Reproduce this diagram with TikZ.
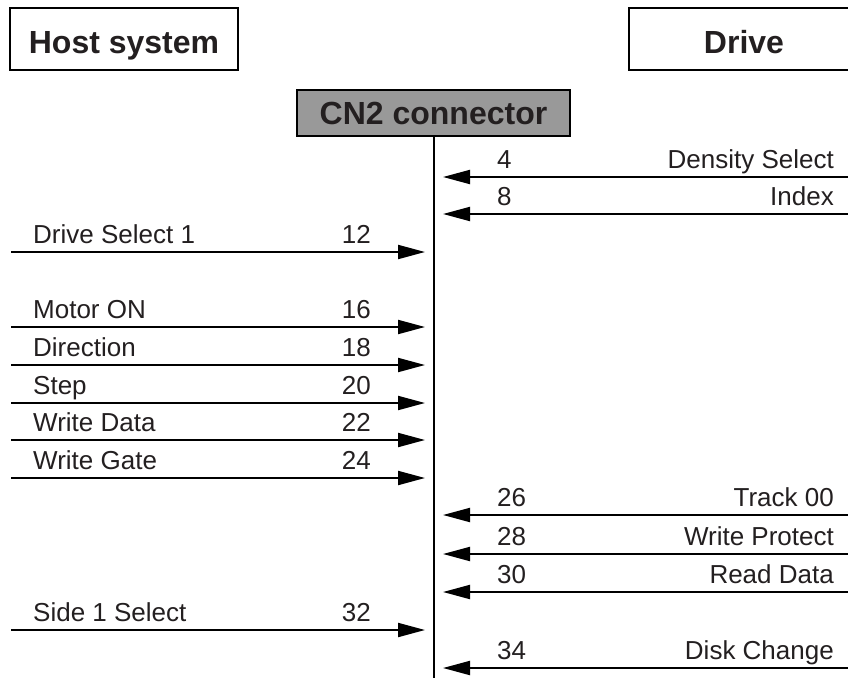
\documentclass[tikz,border=0pt]{standalone}
\usepackage{fontspec}
\setmainfont{Liberation Sans}
\usetikzlibrary{arrows.meta}
\definecolor{ink}{RGB}{35,31,32}

\begin{document}
\begin{tikzpicture}[x=1pt, y=-1pt]
    \tikzstyle{every node}=[inner sep=0pt, text=ink, font=\fontsize{26}{30}\selectfont]
    \tikzstyle{headbox}=[draw, line width=2.5pt, minimum height=62pt, text height=28pt, text depth=0pt, font=\bfseries\fontsize{32}{36}\selectfont]
    \tikzstyle{sig}=[line width=2pt, -{Triangle[length=27pt,width=14pt]}]
    \tikzstyle{lefttext}=[anchor=base west]
    \tikzstyle{righttext}=[anchor=base east]

    \useasboundingbox (0,0) rectangle (848,677);

% The two sides and the connector between them

    \node [headbox, minimum width=228pt] (host) at (124,39) {Host system};
    \node [headbox, minimum width=230pt] (drive) at (744,39) {Drive};
    \node [headbox, fill=black!40, minimum width=273pt, minimum height=46pt, text height=22pt] (cn2) at (433.5,113) {CN2 connector};
    \coordinate (bottom) at (433.5,680);
    \draw [line width=2pt] (cn2.south) -- (bottom);

% Signals from the drive to the host (pin number left, name right)

    \coordinate (d4) at (850,177); \coordinate (c4) at (443,177); \draw [sig] (d4) -- (c4); \node [lefttext] (p4) at (497,168) {4}; \node [righttext] (n4) at (834,168) {Density Select};
    \coordinate (d8) at (850,214); \coordinate (c8) at (443,214); \draw [sig] (d8) -- (c8); \node [lefttext] (p8) at (497,205) {8}; \node [righttext] (n8) at (834,205) {Index};
    \coordinate (d26) at (850,515); \coordinate (c26) at (443,515); \draw [sig] (d26) -- (c26); \node [lefttext] (p26) at (497,506) {26}; \node [righttext] (n26) at (834,506) {Track 00};
    \coordinate (d28) at (850,554); \coordinate (c28) at (443,554); \draw [sig] (d28) -- (c28); \node [lefttext] (p28) at (497,545) {28}; \node [righttext] (n28) at (834,545) {Write Protect};
    \coordinate (d30) at (850,592); \coordinate (c30) at (443,592); \draw [sig] (d30) -- (c30); \node [lefttext] (p30) at (497,583) {30}; \node [righttext] (n30) at (834,583) {Read Data};
    \coordinate (d34) at (850,668); \coordinate (c34) at (443,668); \draw [sig] (d34) -- (c34); \node [lefttext] (p34) at (497,659) {34}; \node [righttext] (n34) at (834,659) {Disk Change};

% Signals from the host to the drive (name left, pin number right)

    \coordinate (h12) at (11,252); \coordinate (c12) at (425,252); \draw [sig] (h12) -- (c12); \node [lefttext] (n12) at (33,243) {Drive Select 1}; \node [righttext] (p12) at (371,243) {12};
    \coordinate (h16) at (11,327); \coordinate (c16) at (425,327); \draw [sig] (h16) -- (c16); \node [lefttext] (n16) at (33,318) {Motor ON}; \node [righttext] (p16) at (371,318) {16};
    \coordinate (h18) at (11,365); \coordinate (c18) at (425,365); \draw [sig] (h18) -- (c18); \node [lefttext] (n18) at (33,356) {Direction}; \node [righttext] (p18) at (371,356) {18};
    \coordinate (h20) at (11,403); \coordinate (c20) at (425,403); \draw [sig] (h20) -- (c20); \node [lefttext] (n20) at (33,394) {Step}; \node [righttext] (p20) at (371,394) {20};
    \coordinate (h22) at (11,440); \coordinate (c22) at (425,440); \draw [sig] (h22) -- (c22); \node [lefttext] (n22) at (33,431) {Write Data}; \node [righttext] (p22) at (371,431) {22};
    \coordinate (h24) at (11,478); \coordinate (c24) at (425,478); \draw [sig] (h24) -- (c24); \node [lefttext] (n24) at (33,469) {Write Gate}; \node [righttext] (p24) at (371,469) {24};
    \coordinate (h32) at (11,630); \coordinate (c32) at (425,630); \draw [sig] (h32) -- (c32); \node [lefttext] (n32) at (33,621) {Side 1 Select}; \node [righttext] (p32) at (371,621) {32};

\end{tikzpicture}
\end{document}
